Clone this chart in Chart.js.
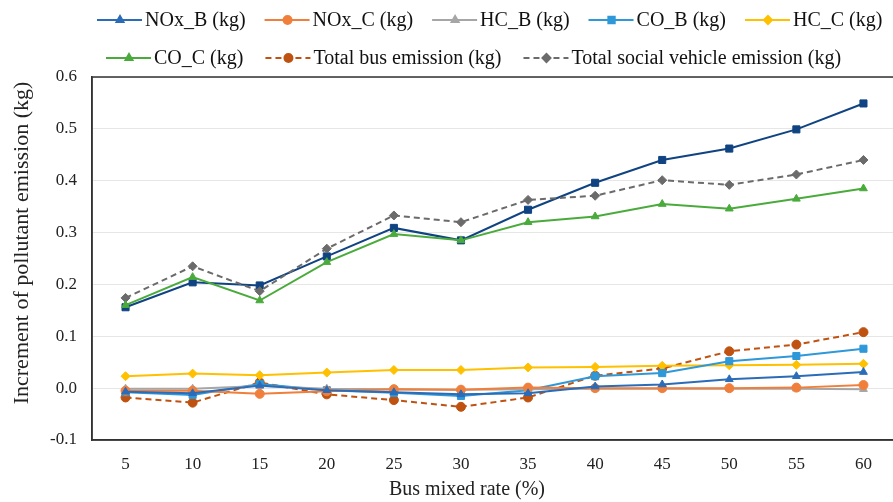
<!DOCTYPE html>
<html>
<head>
<meta charset="utf-8">
<script src="https://cdn.jsdelivr.net/npm/chart.js@4.4.1/dist/chart.umd.min.js"></script>
<style>
  html, body { margin: 0; padding: 0; background: #fff; }
  #wrap { width: 893px; height: 502px; overflow: hidden; position: relative; }
  canvas { display: block; }
</style>
</head>
<body>
<div id="wrap"><canvas id="chart" width="903" height="502"></canvas></div>
<script>
// ─── Data ─────────────────────────────────────────────

const RATES = ['5', '10', '15', '20', '25', '30', '35', '40', '45', '50', '55', '60'];

const NOX_B        = [-0.007, -0.010, 0.005, -0.004, -0.008, -0.012, -0.010, 0.003, 0.007, 0.017, 0.023, 0.031];
const NOX_C        = [-0.005, -0.005, -0.011, -0.006, -0.002, -0.003, 0.001, 0.000, 0.000, 0.000, 0.001, 0.006];
const HC_B         = [-0.001, -0.001, 0.004, -0.001, -0.002, -0.003, -0.002, -0.001, -0.001, -0.001, -0.001, -0.002];
const CO_B         = [-0.008, -0.013, 0.008, -0.004, -0.009, -0.015, -0.004, 0.023, 0.029, 0.052, 0.062, 0.076];
const HC_C         = [0.023, 0.028, 0.025, 0.030, 0.035, 0.035, 0.040, 0.041, 0.043, 0.044, 0.045, 0.047];
const CO_C         = [0.160, 0.214, 0.169, 0.243, 0.297, 0.285, 0.320, 0.331, 0.355, 0.346, 0.365, 0.385];
const BUS_TOTAL    = [-0.018, -0.028, 0.011, -0.012, -0.023, -0.036, -0.018, 0.024, 0.038, 0.071, 0.084, 0.108];
const SOCIAL_TOTAL = [0.174, 0.235, 0.187, 0.269, 0.333, 0.320, 0.363, 0.371, 0.401, 0.392, 0.412, 0.440];
// navy series drawn in the figure but missing from its legend
const ALL_TOTAL    = [0.156, 0.204, 0.198, 0.254, 0.309, 0.285, 0.344, 0.396, 0.440, 0.462, 0.499, 0.549];

const Y_TICKS = [-0.1, 0.0, 0.1, 0.2, 0.3, 0.4, 0.5, 0.6];

const X_TITLE = 'Bus mixed rate (%)';
const Y_TITLE = 'Increment of pollutant emission (kg)';

const FONT = "'Liberation Serif', 'Times New Roman', serif";

// ─── Series ───────────────────────────────────────────

function series(label, data, color, pointStyle, radius, dashed) {
    return {
        label,
        data,
        borderColor: color,
        backgroundColor: color,
        pointBackgroundColor: color,
        pointBorderColor: color,
        pointStyle,
        pointRadius: radius,
        pointBorderWidth: 1,
        borderWidth: 2,
        borderDash: dashed ? [6, 4] : [],
        tension: 0,
    };
}

const datasets = [
    series('NOx_B (kg)', NOX_B, '#2b6cb8', 'triangle', 4.5, false),
    series('NOx_C (kg)', NOX_C, '#f07f3c', 'circle', 4.5, false),
    series('HC_B (kg)', HC_B, '#a6a6a6', 'triangle', 4.5, false),
    series('CO_B (kg)', CO_B, '#2e98d8', 'rect', 5, false),
    series('HC_C (kg)', HC_C, '#ffc000', 'rectRot', 4.5, false),
    series('CO_C (kg)', CO_C, '#4aab3c', 'triangle', 4.5, false),
    series('Total bus emission (kg)', BUS_TOTAL, '#bf5210', 'circle', 4.5, true),
    series('Total social vehicle emission (kg)', SOCIAL_TOTAL, '#6b6b6b', 'rectRot', 4.5, true),
    series('Total emission (kg)', ALL_TOTAL, '#0f4382', 'rect', 5, false),
];

// ─── Plugins ──────────────────────────────────────────

const framePlugin = {
    id: 'frame',
    afterDatasetsDraw(chart) {
        const { ctx, chartArea: a } = chart;
        ctx.save();
        ctx.strokeStyle = '#333';
        ctx.lineWidth = 1.5;
        ctx.strokeRect(a.left, a.top, a.right - a.left, a.bottom - a.top);
        ctx.restore();
    },
};

// axis titles drawn by hand so they can sit where the figure has them
const titlesPlugin = {
    id: 'axisTitles',
    afterDraw(chart) {
        const { ctx } = chart;
        ctx.save();
        ctx.fillStyle = '#222';
        ctx.textAlign = 'center';
        ctx.textBaseline = 'middle';
        ctx.font = `20px ${FONT}`;
        ctx.fillText(X_TITLE, 467, 490);
        ctx.translate(22, 243);
        ctx.rotate(-Math.PI / 2);
        ctx.font = `22px ${FONT}`;
        ctx.fillText(Y_TITLE, 0, 0);
        ctx.restore();
    },
};

// legend rows: line + marker, then text
const LEGEND_ROWS = [
    { y: 20, x: 97,  gap: 19, items: [0, 1, 2, 3, 4] },
    { y: 58, x: 106, gap: 22, items: [5, 6, 7] },
];

const legendPlugin = {
    id: 'lineLegend',
    afterDraw(chart) {
        const { ctx } = chart;
        ctx.save();
        ctx.font = `20px ${FONT}`;
        ctx.textBaseline = 'middle';
        LEGEND_ROWS.forEach(row => {
            let x = row.x;
            row.items.forEach(i => {
                const ds = chart.data.datasets[i];
                ctx.strokeStyle = ds.borderColor;
                ctx.lineWidth = 2;
                ctx.setLineDash(ds.borderDash);
                ctx.beginPath();
                ctx.moveTo(x, row.y);
                ctx.lineTo(x + 45, row.y);
                ctx.stroke();
                ctx.setLineDash([]);
                ctx.fillStyle = ds.backgroundColor;
                Chart.helpers.drawPoint(ctx, {
                    pointStyle: ds.pointStyle,
                    radius: ds.pointRadius - 0.5,
                    rotation: 0,
                    borderWidth: 1,
                }, x + 23, row.y);
                ctx.fillStyle = '#111';
                ctx.fillText(ds.label, x + 48, row.y + 1);
                x += 48 + ctx.measureText(ds.label).width + row.gap;
            });
        });
        ctx.restore();
    },
};

// ─── Chart ────────────────────────────────────────────

new Chart(document.getElementById('chart').getContext('2d'), {
    type: 'line',
    data: { labels: RATES, datasets },
    options: {
        responsive: false,
        animation: false,
        layout: { padding: { top: 77, right: 2, left: 0, bottom: 0 } },
        plugins: {
            legend: { display: false },
            tooltip: { enabled: false },
        },
        scales: {
            x: {
                offset: true,
                grid: { display: false },
                border: { display: true, color: '#333', width: 1.5 },
                ticks: { color: '#222', font: { family: FONT, size: 17 }, padding: 6, maxRotation: 0 },
                afterFit: scale => { scale.height = 62; },
            },
            y: {
                min: Y_TICKS[0],
                max: Y_TICKS[Y_TICKS.length - 1],
                afterBuildTicks: scale => { scale.ticks = Y_TICKS.map(v => ({ value: v })); },
                grid: { color: '#e6e6e6', lineWidth: 1, drawTicks: false },
                border: { display: true, color: '#333', width: 1.5 },
                ticks: {
                    color: '#222',
                    font: { family: FONT, size: 17 },
                    padding: 15,
                    callback: v => (Math.abs(v) < 1e-9 ? 0 : v).toFixed(1),
                },
                afterFit: scale => { scale.width = 92; },
            },
        },
    },
    plugins: [framePlugin, titlesPlugin, legendPlugin],
});
</script>
</body>
</html>
